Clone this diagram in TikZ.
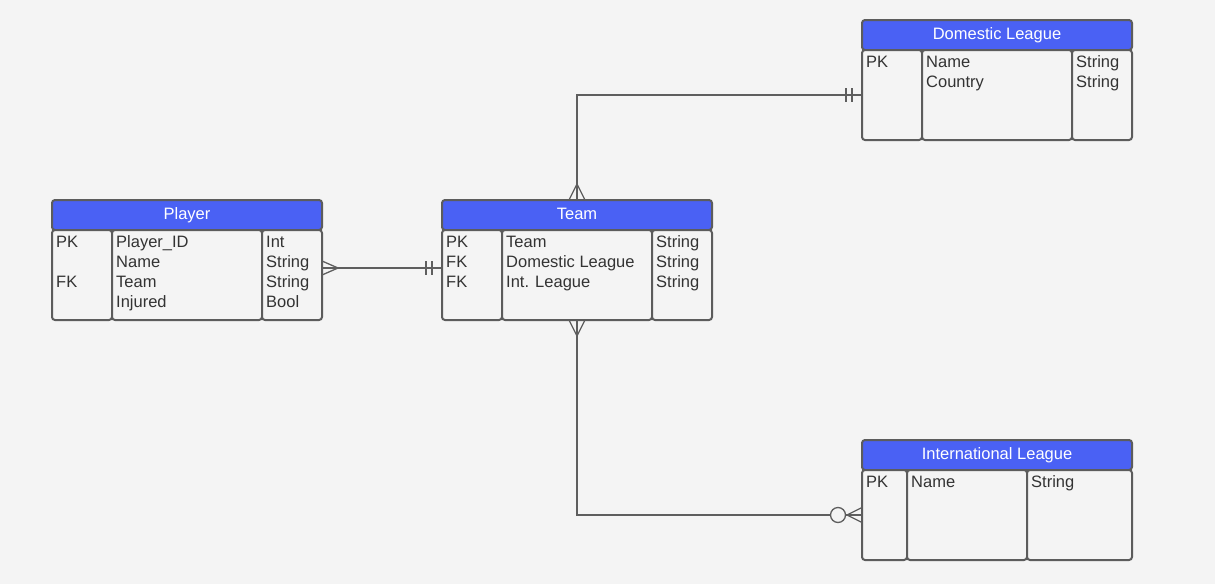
\documentclass[tikz,border=0pt]{standalone}
\usepackage{fontspec}
\setmainfont{Liberation Sans}
\usetikzlibrary{calc}
\definecolor{bg}{HTML}{F4F4F4}
\definecolor{hdr}{HTML}{4A61F4}
\definecolor{bord}{HTML}{5C5C5C}
\definecolor{txt}{HTML}{333333}
\definecolor{conn}{HTML}{5E5E5E}
\tikzset{
  cell/.style={draw=bord, line width=2pt, fill=bg, rounded corners=3pt, minimum height=90pt, anchor=north west, inner sep=0pt, outer sep=0pt},
  hdrbox/.style={draw=bord, fill=hdr, line width=2pt, rounded corners=3pt, minimum width=270pt, minimum height=30pt, anchor=north west, inner sep=0pt, outer sep=0pt},
  hdrtxt/.style={anchor=base, inner sep=0pt, text=white, font=\fontsize{16.5}{20}\selectfont},
  rowtxt/.style={anchor=base west, inner sep=0pt, text=txt, font=\fontsize{16.5}{20}\selectfont},
  conn/.style={draw=conn, line width=1.3pt},
}
\newcommand\rowsat[2]{\foreach \i/\t in {#2} {\node[rowtxt] (#1r\i) at ($(#1.north west)+(4,17+20*\i-20)$) {\t};}}
\newcommand\hdrat[2]{\node[hdrtxt] (#1t) at ($(#1.north)+(0,19)$) {#2};}
\begin{document}
\begin{tikzpicture}[x=1pt,y=-1pt]
\fill[bg] (0,0) rectangle (1215,584);
\useasboundingbox (0,0) rectangle (1215,584);

% Player
\node[hdrbox] (ph) at (52,200) {};
\hdrat{ph}{Player}
\node[cell, minimum width=60pt] (p1) at (52,230) {};
\node[cell, minimum width=150pt] (p2) at (112,230) {};
\node[cell, minimum width=60pt] (p3) at (262,230) {};
\rowsat{p1}{1/PK,3/FK}
\rowsat{p2}{1/Player\_ID,2/Name,3/Team,4/Injured}
\rowsat{p3}{1/Int,2/String,3/String,4/Bool}

% Team
\node[hdrbox] (th) at (442,200) {};
\hdrat{th}{Team}
\node[cell, minimum width=60pt] (t1) at (442,230) {};
\node[cell, minimum width=150pt] (t2) at (502,230) {};
\node[cell, minimum width=60pt] (t3) at (652,230) {};
\rowsat{t1}{1/PK,2/FK,3/FK}
\rowsat{t2}{1/Team,2/Domestic League,3/Int. League}
\rowsat{t3}{1/String,2/String,3/String}

% Domestic League
\node[hdrbox] (dh) at (862,20) {};
\hdrat{dh}{Domestic League}
\node[cell, minimum width=60pt] (d1) at (862,50) {};
\node[cell, minimum width=150pt] (d2) at (922,50) {};
\node[cell, minimum width=60pt] (d3) at (1072,50) {};
\rowsat{d1}{1/PK}
\rowsat{d2}{1/Name,2/Country}
\rowsat{d3}{1/String,2/String}

% International League
\node[hdrbox] (ih) at (862,440) {};
\hdrat{ih}{International League}
\node[cell, minimum width=45pt] (i1) at (862,470) {};
\node[cell, minimum width=120pt] (i2) at (907,470) {};
\node[cell, minimum width=105pt] (i3) at (1027,470) {};
\rowsat{i1}{1/PK}
\rowsat{i2}{1/Name}
\rowsat{i3}{1/String}

% Player -- Team
\coordinate (pA) at ([yshift=7pt]p3.east);
\coordinate (tA) at ([yshift=7pt]t1.west);
\draw[conn] (pA) -- (tA);
\draw[conn] (pA) ++(0,-7) -- ++(16,7) -- ++(-16,7);
\draw[conn] (tA) ++(-10,-7) -- ++(0,14);
\draw[conn] (tA) ++(-16,-7) -- ++(0,14);

% Team -- Domestic League
\draw[conn] (th.north) |- (d1.west);
\draw[conn] (th.north) ++(-8,0) -- ++(8,-16) -- ++(8,16);
\draw[conn] (d1.west) ++(-10,-7) -- ++(0,14);
\draw[conn] (d1.west) ++(-16,-7) -- ++(0,14);

% Team -- International League
\node[circle, draw=conn, fill=bg, line width=1.3pt, minimum size=15pt, inner sep=0pt] (zc) at ($(i1.west)+(-24,0)$) {};
\draw[conn] (t2.south) |- (zc.west);
\draw[conn] (zc.east) -- (i1.west);
\draw[conn] (t2.south) ++(-8,0) -- ++(8,16) -- ++(8,-16);
\draw[conn] (i1.west) ++(0,-7.5) -- ++(-15,7.5) -- ++(15,7.5);
\end{tikzpicture}
\end{document}
